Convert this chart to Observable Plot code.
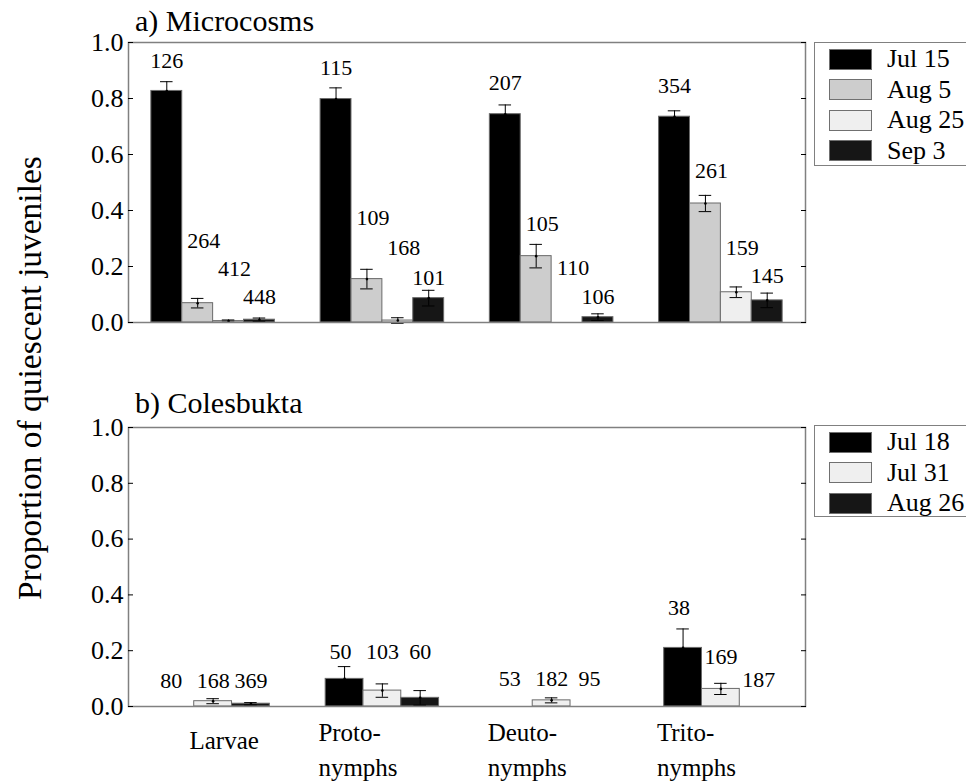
<!DOCTYPE html>
<html><head><meta charset="utf-8">
<script src="https://cdn.jsdelivr.net/npm/d3@7"></script>
<script src="https://cdn.jsdelivr.net/npm/@observablehq/plot@0.6"></script>
<style>
body{margin:0;background:#fff}
#root{position:relative;width:966px;height:784px;color:#000;overflow:hidden;background:#fff}
.abs{position:absolute}
.title{font-size:30px;line-height:30px;white-space:nowrap}
.ylab{font-size:33.5px;line-height:34px;width:600px;text-align:center;transform:rotate(-90deg);white-space:nowrap}
.legend{box-sizing:border-box;border:1.5px solid #808080;background:#fff;width:180px}
.item{position:absolute;left:14px;height:24px;display:flex;align-items:center;font-size:26px;white-space:nowrap}
.sw{width:43px;height:21px;box-sizing:border-box;border:1px solid #707070;margin-right:15px}
svg{position:absolute;left:0}
</style></head>
<body><div id="root"></div>
<script>
// ---------- data ----------
const stages = ["Larvae", "Protonymphs", "Deutonymphs", "Tritonymphs"];
const stageLabels = ["Larvae", "Proto-\nnymphs", "Deuto-\nnymphs", "Trito-\nnymphs"];
const yTicks = [0, 0.2, 0.4, 0.6, 0.8, 1.0];

// a) Microcosms
const datesA = ["Jul 15", "Aug 5", "Aug 25", "Sep 3"];
const colorsA = ["#000000", "#cdcdcd", "#efefef", "#161616"];
const meanA = [
  [0.827, 0.798, 0.744, 0.735],
  [0.069, 0.155, 0.237, 0.425],
  [0.005, 0.007, 0.000, 0.108],
  [0.010, 0.087, 0.019, 0.079]
];
const errA = [
  [0.033, 0.040, 0.033, 0.021],
  [0.017, 0.035, 0.042, 0.029],
  [0.004, 0.010, 0.000, 0.019],
  [0.006, 0.028, 0.012, 0.026]
];
const nA = [
  [126, 115, 207, 354],
  [264, 109, 105, 261],
  [412, 168, 110, 159],
  [448, 101, 106, 145]
];
const nLabelAtA = [
  [0.935, 0.910, 0.857, 0.846],
  [0.290, 0.373, 0.351, 0.541],
  [0.190, 0.265, 0.194, 0.265],
  [0.093, 0.158, 0.093, 0.165]
];

// b) Colesbukta
const datesB = ["Jul 18", "Jul 31", "Aug 26"];
const colorsB = ["#000000", "#efefef", "#161616"];
const meanB = [
  [0.000, 0.099, 0.000, 0.210],
  [0.019, 0.057, 0.022, 0.063],
  [0.010, 0.031, 0.000, 0.000]
];
const errB = [
  [0.000, 0.044, 0.000, 0.068],
  [0.009, 0.024, 0.009, 0.020],
  [0.004, 0.026, 0.000, 0.000]
];
const nB = [
  [80, 50, 53, 38],
  [168, 103, 182, 169],
  [369, 60, 95, 187]
];
const nLabelAtB = [
  [0.093, 0.194, 0.097, 0.355],
  [0.093, 0.194, 0.097, 0.179],
  [0.093, 0.194, 0.097, 0.096]
];

// ---------- build ----------
const root = document.getElementById("root");
const FONT = "Liberation Serif";

// grouped-bar layout in data units: stage i occupies [i-0.5, i+0.5]
function rowsOf(dates, mean, err, n, at, groupWidth) {
  const k = dates.length, bw = groupWidth / k;
  const rows = [];
  stages.forEach((s, i) => dates.forEach((d, j) => {
    const x1 = i - groupWidth / 2 + j * bw;
    rows.push({stage: s, date: d, value: mean[j][i], err: err[j][i], n: n[j][i], at: at[j][i],
      si: j, x1, x2: x1 + bw, xc: x1 + bw / 2});
  }));
  return rows;
}

function panel({dates, colors, rows, height, marginTop, marginBottom, capHalf, labelDx, withCats}) {
  const withErr = rows.filter(d => d.err > 0);
  const marks = [
    Plot.rectY(rows.filter(d => d.value > 0), {x1: "x1", x2: "x2", y1: 0, y2: "value", fill: "date", stroke: "#6a6a6a", strokeWidth: 1}),
    Plot.ruleX(withErr, {x: "xc", y1: d => d.value - d.err, y2: d => d.value + d.err, stroke: "#000", strokeWidth: 1}),
    Plot.ruleY(withErr, {y: d => d.value + d.err, x1: d => d.xc - capHalf, x2: d => d.xc + capHalf, stroke: "#000"}),
    Plot.ruleY(withErr, {y: d => d.value - d.err, x1: d => d.xc - capHalf, x2: d => d.xc + capHalf, stroke: "#000"}),
    Plot.dot(withErr, {x: "xc", y: "value", r: 1.3, fill: "#000"}),
    ...dates.map((d, j) => Plot.text(rows.filter(r => r.si === j), {x: "xc", y: "at", text: r => String(r.n), fontSize: 22, fontFamily: FONT, dx: labelDx[j], fill: "#000"})),
    Plot.frame({stroke: "#808080", strokeWidth: 1.5}),
    Plot.axisY({anchor: "left", ticks: yTicks, tickFormat: d3.format(".1f"), tickSize: -5, tickPadding: 10, label: null, fontSize: 26, fontFamily: FONT}),
    Plot.axisY({anchor: "right", ticks: yTicks, tickFormat: () => "", tickSize: -5, label: null})
  ];
  if (withCats) {
    marks.push(Plot.text([0], {x: d => d, text: () => stageLabels[0], frameAnchor: "bottom", lineAnchor: "top", dy: 25, dx: 11, fontSize: 25, fontFamily: FONT}));
    marks.push(Plot.text([1, 2, 3], {x: d => d, text: d => stageLabels[d], frameAnchor: "bottom", lineAnchor: "top", dy: 10, dx: -64, textAnchor: "start", lineHeight: 1.4, fontSize: 25, fontFamily: FONT}));
  }
  return Plot.plot({
    width: 966, height, marginLeft: 128, marginRight: 161, marginTop, marginBottom,
    style: {fontFamily: FONT, fontSize: "22px", background: "transparent", color: "#000", overflow: "visible"},
    x: {domain: [-0.5, stages.length - 0.5], axis: null},
    y: {domain: [0, 1]},
    color: {domain: dates, range: colors},
    marks
  });
}

const svgA = panel({
  dates: datesA, colors: colorsA, rows: rowsOf(datesA, meanA, errA, nA, nLabelAtA, 0.73),
  height: 340, marginTop: 42, marginBottom: 18, capHalf: 0.037, labelDx: [0, 6, 6, 0], withCats: false
});
svgA.style.top = "0px";
root.appendChild(svgA);

const svgB = panel({
  dates: datesB, colors: colorsB, rows: rowsOf(datesB, meanB, errB, nB, nLabelAtB, 0.67),
  height: 444, marginTop: 87, marginBottom: 78, capHalf: 0.037, labelDx: [-4, 0, 0], withCats: true
});
svgB.style.top = "340px";
root.appendChild(svgB);

// titles
function addDiv(cls, text, css) {
  const d = document.createElement("div");
  d.className = "abs " + cls;
  d.textContent = text;
  Object.assign(d.style, css);
  d.style.fontFamily = FONT;
  root.appendChild(d);
  return d;
}
addDiv("title", "a) Microcosms", {left: "135px", top: "6px"});
addDiv("title", "b) Colesbukta", {left: "135px", top: "388px"});
addDiv("ylab", "Proportion of quiescent juveniles", {left: "-270px", top: "361px"});

// legends
function legend(dates, colors, top, h) {
  const box = document.createElement("div");
  box.className = "abs legend";
  Object.assign(box.style, {left: "814px", top: top + "px", height: h + "px"});
  dates.forEach((d, i) => {
    const it = document.createElement("div");
    it.className = "item";
    it.style.top = (4 + i * 30.5) + "px";
    it.style.fontFamily = FONT;
    const sw = document.createElement("div");
    sw.className = "sw";
    sw.style.background = colors[i];
    const tx = document.createElement("span");
    tx.textContent = d;
    it.appendChild(sw); it.appendChild(tx);
    box.appendChild(it);
  });
  root.appendChild(box);
}
legend(datesA, colorsA, 42, 124);
legend(datesB, colorsB, 425, 92);
</script></body></html>
